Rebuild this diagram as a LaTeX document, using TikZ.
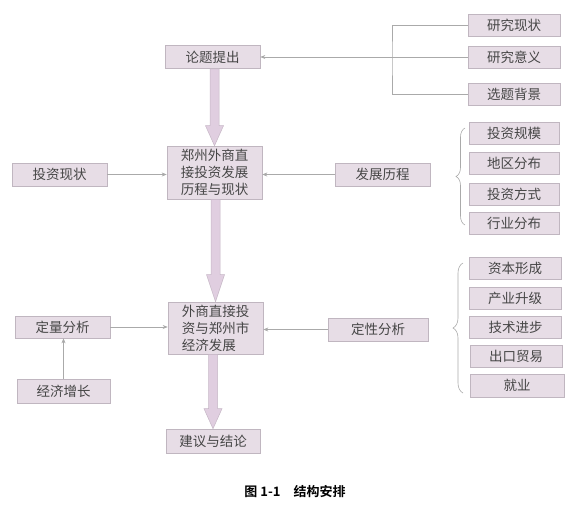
\documentclass[tikz,border=0pt]{standalone}
\usepackage{fontspec}
\setmainfont{Noto Sans CJK SC}[BoldFont={Noto Sans CJK SC Bold}]
\usetikzlibrary{arrows.meta,decorations.pathreplacing,calc}
\definecolor{boxfill}{RGB}{231,221,230}
\definecolor{boxline}{RGB}{192,182,192}
\definecolor{txt}{RGB}{70,70,70}
\definecolor{thin}{RGB}{170,170,170}
\definecolor{bigfill}{RGB}{224,206,224}
\definecolor{bigline}{RGB}{198,183,198}
\newcommand\bigarr[3]{%
  \filldraw[bigarrow] let \p1=(#1), \p2=(#2) in
  (\x2-4.5pt,\y1) -- (\x2+4.5pt,\y1) -- (\x2+4.5pt,\y2+#3) -- (\x2+9pt,\y2+#3)
  -- (\x2,\y2) -- (\x2-9pt,\y2+#3) -- (\x2-4.5pt,\y2+#3) -- cycle;}
\begin{document}
\begin{tikzpicture}[x=1pt,y=-1pt,
  box/.style={draw=boxline, fill=boxfill, line width=0.6pt, text=txt,
    font=\fontsize{13.5}{17}\selectfont, inner sep=0pt,
    minimum width=95pt, minimum height=23pt, align=center},
  sbox/.style={box, minimum width=92pt, minimum height=22pt},
  thinarrow/.style={draw=thin, line width=0.6pt, -{Stealth[length=5pt,width=4pt]}},
  thinline/.style={draw=thin, line width=0.6pt},
  bigarrow/.style={fill=bigfill, draw=bigline, line width=0.5pt}]
\useasboundingbox (0,0) rectangle (580,509);

% main column
\node[box] (lunti) at (212.5,57) {论题提出};
\node[box, minimum height=53pt] (zz) at (214.5,172.5) {郑州外商直\\接投资发展\\历程与现状};
\node[box, minimum height=52pt, align=left] (wsz) at (215.5,328) {外商直接投\\资与郑州市\\经济发展};
\node[box, minimum width=94pt, minimum height=24pt] (jyjl) at (213,441) {建议与结论};

% top right
\node[sbox] (yjxz) at (514,25) {研究现状};
\node[sbox] (yjyy) at (514,57) {研究意义};
\node[sbox] (xtbj) at (514,94) {选题背景};

% second row
\node[box] (tzxz) at (59.5,174.5) {投资现状};
\node[box] (fzlc) at (382.5,174.5) {发展历程};
\node[sbox, minimum width=90pt] (tzgm) at (514,133) {投资规模};
\node[sbox, minimum width=90pt] (dqfb) at (514,163.5) {地区分布};
\node[sbox, minimum width=90pt] (tzfs) at (514,194.5) {投资方式};
\node[sbox, minimum width=90pt] (hyfb) at (514,223.5) {行业分布};

% third row
\node[box, minimum height=22pt] (dlfx) at (62.5,327) {定量分析};
\node[box, minimum width=93pt, minimum height=24pt] (jjzz) at (63.5,391) {经济增长};
\node[box, minimum width=100pt] (dxfx) at (378,329.5) {定性分析};
\node[sbox] (zbxc) at (515,268) {资本形成};
\node[sbox] (cysj) at (515,298) {产业升级};
\node[sbox] (jsjb) at (515.5,327.5) {技术进步};
\node[sbox] (ckmy) at (516,356) {出口贸易};
\node[sbox, minimum width=94pt, minimum height=23pt] (jy) at (517,385.5) {就业};

% big arrows
\bigarr{lunti.south}{zz.north}{20pt}
\bigarr{zz.south}{wsz.north}{27pt}
\bigarr{wsz.south}{jyjl.north}{20pt}

% top bracket connector
\coordinate (bk) at (392,57);
\draw[thinline] (yjxz.west) -| (bk) |- (xtbj.west);
\draw[thinarrow] (yjyy.west) -- (lunti.east);

% thin arrows
\draw[thinarrow] (tzxz.east) -- (tzxz.east -| zz.west);
\draw[thinarrow] (fzlc.west) -- (fzlc.west -| zz.east);
\draw[thinarrow] (dlfx.east) -- (dlfx.east -| wsz.west);
\draw[thinarrow] (dxfx.west) -- (dxfx.west -| wsz.east);
\draw[thinarrow] (jjzz.north) -- (jjzz.north |- dlfx.south);

% braces
\coordinate (b1a) at (465,225);
\coordinate (b1b) at (465,128);
\coordinate (b2a) at (463,393);
\coordinate (b2b) at (463,263);
\draw[thinline, decorate, decoration={brace, amplitude=9pt}] (b1a) -- (b1b);
\draw[thinline, decorate, decoration={brace, amplitude=10pt}] (b2a) -- (b2b);

% caption
\node (cap) at (295,492) {\fontsize{13}{15}\selectfont\bfseries 图 1-1\hspace{1em}结构安排};
\end{tikzpicture}
\end{document}
